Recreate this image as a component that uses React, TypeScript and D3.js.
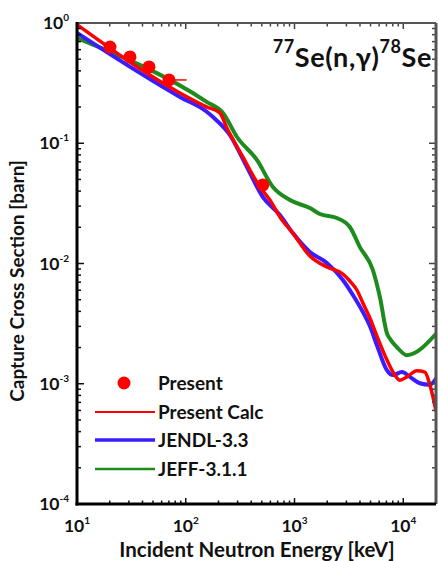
import React from 'react';
import * as d3 from 'd3';

const W = 439;
const H = 561;

// Axis ranges
const xDomain: [number, number] = [10, 20000];
const yDomain: [number, number] = [1e-4, 1];
const xMajorExp = [1, 2, 3, 4];
const yMajorExp = [0, -1, -2, -3, -4];

// Present measurement (keV, barn) with horizontal error extents
const presentE = [20.1, 30.7, 45.9, 70.1, 512];
const presentXS = [0.631, 0.522, 0.431, 0.336, 0.045];
const presentElo = [19, 29, 43, 62, 480];
const presentEhi = [21.5, 32.5, 49, 102, 545];

// Present Calc
const calcE = [10, 88.4, 157, 206, 239, 335, 481, 594, 734, 966, 1385, 1985, 2785, 3229, 3745, 4253, 4932, 5715, 7067, 8372, 9307, 10790, 13340, 15800, 17560, 18720, 19940];
const calcXS = [0.97, 0.262, 0.2, 0.179, 0.134, 0.0769, 0.0433, 0.0337, 0.0244, 0.0179, 0.01155, 0.00935, 0.00818, 0.00715, 0.00602, 0.00469, 0.00352, 0.0025, 0.00158, 0.00118, 0.00107, 0.00114, 0.00128, 0.00125, 0.00098, 0.00078, 0.0006];

// JENDL-3.3
const jendlE = [10, 88.4, 157, 178, 255, 365, 512, 734, 966, 1385, 1985, 2785, 3442, 4253, 4932, 5715, 7067, 8020, 9706, 11500, 14210, 17560, 19940];
const jendlXS = [0.826, 0.2426, 0.182, 0.1653, 0.117, 0.0634, 0.0357, 0.0253, 0.0179, 0.01247, 0.0101, 0.00729, 0.00547, 0.00395, 0.00302, 0.0021, 0.0013, 0.00118, 0.00125, 0.00114, 0.00101, 0.00098, 0.0011];

// JEFF-3.1.1
const jeffE = [10, 157, 220, 296, 451, 633, 907, 1385, 1712, 2453, 3229, 3990, 5255, 6095, 7067, 7690, 8730, 10790, 19940];
const jeffXS = [0.75, 0.22, 0.1786, 0.1127, 0.0726, 0.0433, 0.0337, 0.0289, 0.0258, 0.0239, 0.0201, 0.0137, 0.00883, 0.00526, 0.00264, 0.00231, 0.00202, 0.00173, 0.00259];

const legendLabels = ['Present', 'Present Calc', 'JENDL-3.3', 'JEFF-3.1.1'];

const RED = '#ff0000';
const BLUE = '#3a1cff';
const GREEN = '#1d8c1d';
const FONT = 'Lato, "Open Sans", sans-serif';

const left = 77, right = 436, top = 23, bottom = 504;

export default function App() {
  const x = d3.scaleLog().domain(xDomain).range([left, right]);
  const y = d3.scaleLog().domain(yDomain).range([bottom, top]);

  const line = d3
    .line<[number, number]>()
    .x((d) => x(d[0]))
    .y((d) => y(d[1]))
    .curve(d3.curveMonotoneX);

  const zip = (a: number[], b: number[]) => a.map((v, i) => [v, b[i]] as [number, number]);

  const xTicks = x.ticks();
  const yTicks = y.ticks();
  const isMajor = (v: number) => Math.abs(Math.log10(v) - Math.round(Math.log10(v))) < 1e-9;

  const legendY = [383, 412, 440, 469];

  return (
    <svg width={W} height={H} style={{ display: 'block', position: 'absolute', left: 0, top: 0, background: '#fff' }}>
      <defs>
        <clipPath id="plotclip">
          <rect x={left} y={top} width={right - left} height={bottom - top} />
        </clipPath>
      </defs>
      <rect width={W} height={H} fill="#fff" />

      {/* curves */}
      <g clipPath="url(#plotclip)" fill="none" strokeLinejoin="round" strokeLinecap="round">
        <path d={line(zip(jeffE, jeffXS)) || ''} stroke={GREEN} strokeWidth={4} />
        <path d={line(zip(jendlE, jendlXS)) || ''} stroke={BLUE} strokeWidth={4} />
        <path d={line(zip(calcE, calcXS)) || ''} stroke={RED} strokeWidth={3.5} />
      </g>

      {/* present data */}
      <g clipPath="url(#plotclip)">
        {presentE.map((e, i) => (
          <g key={i}>
            <line x1={x(presentElo[i])} x2={x(presentEhi[i])} y1={y(presentXS[i])} y2={y(presentXS[i])} stroke={RED} strokeWidth={1.5} />
            <circle cx={x(e)} cy={y(presentXS[i])} r={6.5} fill={RED} />
          </g>
        ))}
      </g>

      {/* ticks */}
      <g>
        {yTicks.map((v, i) => {
          const len = isMajor(v) ? 7 : 4;
          const yy = y(v);
          return (
            <g key={'y' + i}>
              <line x1={left} x2={left + len} y1={yy} y2={yy} stroke="#111" strokeWidth={1.5} />
              <line x1={right} x2={right - len} y1={yy} y2={yy} stroke="#444" strokeWidth={1.5} />
            </g>
          );
        })}
        {xTicks.map((v, i) => {
          const len = isMajor(v) ? 6 : 3.5;
          const xx = x(v);
          return (
            <g key={'x' + i}>
              <line x1={xx} x2={xx} y1={bottom} y2={bottom - len} stroke="#111" strokeWidth={1.5} />
              <line x1={xx} x2={xx} y1={top} y2={top + len} stroke="#444" strokeWidth={1.5} />
            </g>
          );
        })}
      </g>

      {/* axis frame */}
      <line x1={left} x2={right} y1={top} y2={top} stroke="#555" strokeWidth={2} />
      <line x1={right} x2={right} y1={top} y2={bottom} stroke="#555" strokeWidth={3} />
      <line x1={left} x2={left} y1={top - 1} y2={bottom + 1.5} stroke="#000" strokeWidth={3} />
      <line x1={left - 1.5} x2={right} y1={bottom} y2={bottom} stroke="#000" strokeWidth={3} />

      {/* tick labels */}
      <g fontFamily={FONT} fontWeight={700} fill="#111">
        {yMajorExp.map((p) => (
          <text key={'yl' + p} x={69} y={y(Math.pow(10, p)) + 6} textAnchor="end" fontSize={17.5}>
            10<tspan fontSize={10} dy={-8}>{p}</tspan>
          </text>
        ))}
        {xMajorExp.map((p) => (
          <text key={'xl' + p} x={x(Math.pow(10, p))} y={532} textAnchor="middle" fontSize={17.5}>
            10<tspan fontSize={10} dy={-8}>{p}</tspan>
          </text>
        ))}
      </g>

      {/* axis titles */}
      <text x={257} y={557} textAnchor="middle" fontFamily={FONT} fontWeight={700} fontSize={20.5} fill="#111">
        Incident Neutron Energy [keV]
      </text>
      <text transform="translate(24,281) rotate(-90)" textAnchor="middle" fontFamily={FONT} fontWeight={700} fontSize={19} fill="#111">
        Capture Cross Section [barn]
      </text>

      {/* reaction label */}
      <text x={432} y={67} textAnchor="end" fontFamily={FONT} fontWeight={700} fontSize={27} letterSpacing={0.6} fill="#111">
        <tspan fontSize={18} dy={-14}>77</tspan>
        <tspan dy={14}>Se(n,γ)</tspan>
        <tspan fontSize={18} dy={-14}>78</tspan>
        <tspan dy={14}>Se</tspan>
      </text>

      {/* legend */}
      <g fontFamily={FONT} fontWeight={700} fontSize={19} fill="#111">
        <circle cx={124} cy={legendY[0]} r={6.5} fill={RED} />
        <line x1={95} x2={155} y1={legendY[1]} y2={legendY[1]} stroke={RED} strokeWidth={2} />
        <line x1={95} x2={155} y1={legendY[2]} y2={legendY[2]} stroke={BLUE} strokeWidth={3.5} />
        <line x1={95} x2={155} y1={legendY[3]} y2={legendY[3]} stroke={GREEN} strokeWidth={2.5} />
        {legendLabels.map((t, i) => (
          <text key={t} x={158} y={legendY[i] + 7}>
            {t}
          </text>
        ))}
      </g>
    </svg>
  );
}
